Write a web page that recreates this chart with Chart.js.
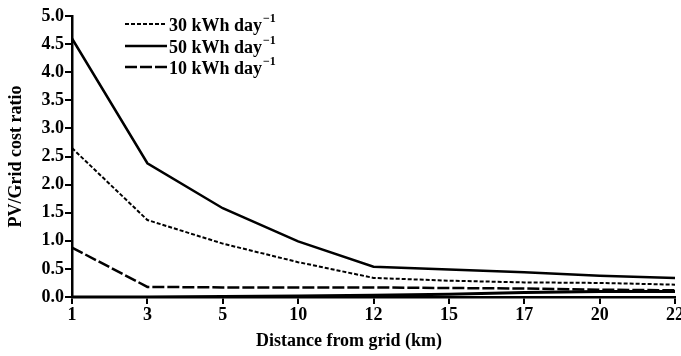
<!DOCTYPE html>
<html>
<head>
<meta charset="utf-8">
<script src="https://cdn.jsdelivr.net/npm/chart.js@4.4.1/dist/chart.umd.min.js"></script>
<style>
  html, body { margin: 0; padding: 0; background: #fff; overflow: hidden; }
  #wrap { width: 681px; height: 356px; position: relative; }
</style>
</head>
<body>
<div id="wrap"><canvas id="myChart"></canvas></div>
<script>
// distance from grid (km)
const distances = ['1', '3', '5', '10', '12', '15', '17', '20', '22'];
const kwh30 = [2.65, 1.37, 0.95, 0.62, 0.34, 0.29, 0.26, 0.25, 0.22];
const kwh50 = [4.6, 2.38, 1.58, 0.99, 0.54, 0.49, 0.44, 0.38, 0.34];
const kwh10 = [0.88, 0.18, 0.17, 0.17, 0.17, 0.16, 0.15, 0.13, 0.12];
// unlabelled line lying along the x axis
const baseLine = [0, 0, 0.01, 0.02, 0.03, 0.05, 0.08, 0.1, 0.1];
const seriesLabels = ['30 kWh day⁻¹', '50 kWh day⁻¹', '10 kWh day⁻¹'];
const yTicks = [0, 0.5, 1, 1.5, 2, 2.5, 3, 3.5, 4, 4.5, 5];

const FONT = "'Liberation Serif', 'Times New Roman', serif";

// legend drawn by hand so the superscript looks right
const legendPlugin = {
  id: 'paperLegend',
  afterDraw(chart) {
    const c = chart.ctx;
    const rows = [24, 46, 67];
    chart.data.datasets.slice(0, 3).forEach((ds, i) => {
      const y = rows[i];
      c.save();
      c.strokeStyle = '#000';
      c.lineWidth = ds.borderWidth;
      c.setLineDash(ds.borderDash || []);
      c.beginPath();
      c.moveTo(125, y);
      c.lineTo(167, y);
      c.stroke();
      c.setLineDash([]);
      c.fillStyle = '#000';
      c.font = 'bold 18px ' + FONT;
      c.textBaseline = 'middle';
      const base = ds.label.replace('⁻¹', '');
      c.fillText(base, 169, y + 2);
      const w = c.measureText(base).width;
      c.font = 'bold 12px ' + FONT;
      c.fillText('\u22121', 169 + w + 1, y - 5);
      c.restore();
    });
  }
};

// x-axis title sits a little left of centre in the original
const xTitlePlugin = {
  id: 'xTitle',
  afterDraw(chart) {
    const c = chart.ctx;
    c.save();
    c.fillStyle = '#000';
    c.font = 'bold 18px ' + FONT;
    c.textAlign = 'center';
    c.textBaseline = 'middle';
    c.fillText('Distance from grid (km)', 349, 341);
    c.restore();
  }
};

const ctx = document.getElementById('myChart');

new Chart(ctx, {
  type: 'line',
  data: {
    labels: distances,
    datasets: [
      { label: seriesLabels[0], data: kwh30, borderColor: '#000', borderWidth: 2, borderDash: [4, 2] },
      { label: seriesLabels[1], data: kwh50, borderColor: '#000', borderWidth: 2.5 },
      { label: seriesLabels[2], data: kwh10, borderColor: '#000', borderWidth: 2.5, borderDash: [12, 3] },
      { label: '', data: baseLine, borderColor: '#000', borderWidth: 3 }
    ]
  },
  options: {
    responsive: true,
    maintainAspectRatio: false,
    animation: false,
    layout: { padding: { left: 0, right: 6, top: 16, bottom: 0 } },
    elements: {
      point: { radius: 0 },
      line: { tension: 0, fill: false }
    },
    plugins: {
      legend: { display: false },
      tooltip: { enabled: false }
    },
    scales: {
      x: {
        type: 'category',
        offset: false,
        grid: { drawOnChartArea: false, drawTicks: true, tickLength: 7, color: '#000', lineWidth: 2 },
        border: { display: true, color: '#000', width: 2.5 },
        ticks: { color: '#000', padding: 1, maxRotation: 0, autoSkip: false, font: { family: FONT, size: 18, weight: 'bold' } },
        afterFit(scale) {
          scale.height = 59;
          scale.paddingLeft = 0;
          scale.paddingRight = 0;
        }
      },
      y: {
        min: 0,
        max: 5,
        afterBuildTicks(scale) {
          scale.ticks = yTicks.map(v => ({ value: v }));
        },
        grid: { drawOnChartArea: false, drawTicks: true, tickLength: 7, color: '#000', lineWidth: 2 },
        border: { display: true, color: '#000', width: 2.5 },
        ticks: {
          color: '#000',
          padding: 1,
          font: { family: FONT, size: 18, weight: 'bold' },
          callback: v => Number(v).toFixed(1)
        },
        title: {
          display: true,
          text: 'PV/Grid cost ratio',
          color: '#000',
          padding: { top: 6, bottom: 0 },
          font: { family: FONT, size: 18, weight: 'bold' }
        },
        afterFit(scale) {
          scale.width = 72;
          scale.paddingTop = 0;
          scale.paddingBottom = 0;
        }
      }
    }
  },
  plugins: [legendPlugin, xTitlePlugin]
});
</script>
</body>
</html>
